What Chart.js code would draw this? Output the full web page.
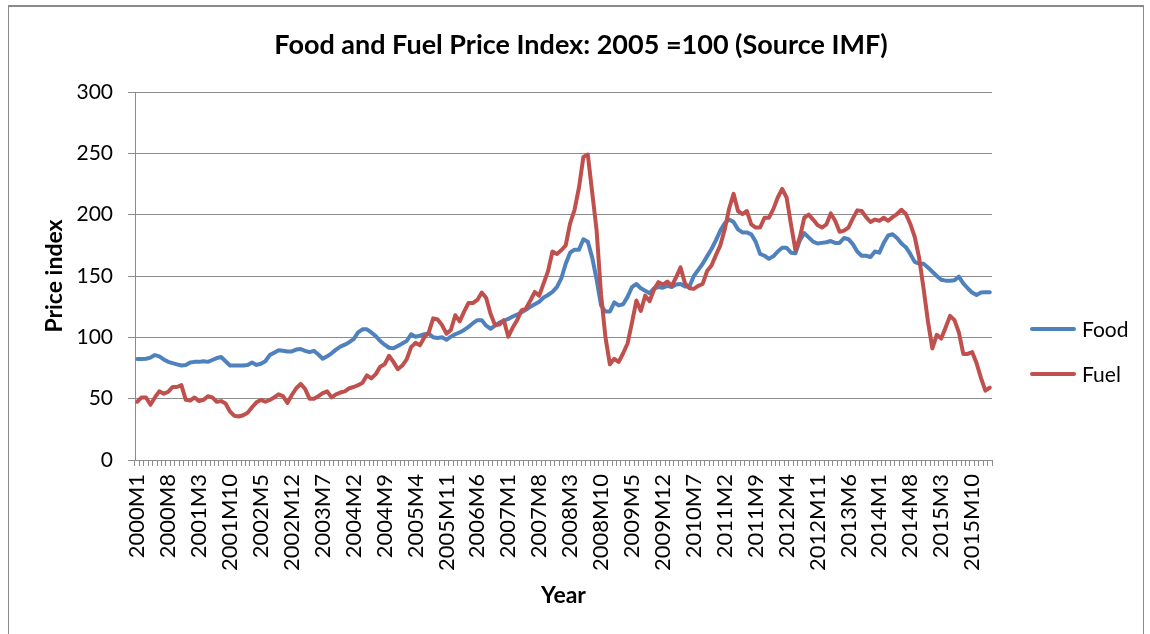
<!DOCTYPE html>
<html>
<head>
<meta charset="utf-8">
<title>Food and Fuel Price Index</title>
<script src="https://cdn.jsdelivr.net/npm/chart.js@4.4.1/dist/chart.umd.min.js"></script>
<style>
  body { margin: 0; background: #fff; }
  #wrap { position: relative; width: 1150px; height: 634px; overflow: hidden; }
  #frame { position: absolute; left: 8px; top: 5px; width: 1134px; height: 700px;
           border: 1px solid #8a8a8a; border-top-width: 2px; pointer-events: none; }
  #legend { position: absolute; left: 1030px; top: 306px; font: 21px Lato, sans-serif; color: #000; }
  .item { display: flex; align-items: center; height: 45px; }
  .swatch { width: 46px; height: 4px; margin-right: 6px; border-radius: 2px; }
</style>
</head>
<body>
<div id="wrap">
  <canvas id="chart" width="1150" height="634"></canvas>
  <div id="frame"></div>
  <div id="legend"></div>
</div>
<script>
// monthly index values, 2005 = 100, from 2000M1 to 2016M2
const food = [
  82.3, 82.3, 82.5, 83.5, 85.5, 84.5, 82, 80, 79, 78,
  77, 77.5, 79.5, 80, 80, 80.5, 80, 81.5, 83, 84,
  80.5, 77, 77, 77, 77, 77.5, 79.5, 77.5, 78.5, 80.5,
  85.5, 87.5, 89.5, 89, 88.5, 88.5, 90, 90.5, 89, 88,
  89, 86, 82.5, 84.5, 87, 90, 92.4, 94, 96, 98.6,
  104, 106.5, 106.5, 104, 101, 97, 94, 91.5, 91, 93,
  95, 97, 102.5, 100.5, 101.4, 102.5, 103, 100, 99.5, 100,
  98, 100.5, 102.5, 104, 106, 108.5, 111.5, 114, 114, 109.5,
  107, 109.5, 112, 113.5, 115, 117, 118.5, 120.5, 122.5, 125,
  127, 129, 132.5, 134.5, 137, 141, 148, 160, 169, 171.5,
  171.5, 180, 178, 165, 147, 126, 121, 121, 128.5, 126,
  127, 133, 141, 143.5, 140, 138, 136, 140, 141, 140.5,
  142, 141, 143, 143.5, 141.5, 141.5, 150, 155, 160, 166,
  172, 179, 187, 193, 196, 194, 188, 185.5, 185.5, 184,
  178, 168, 166.5, 164, 166, 170, 173, 173, 169, 168.5,
  179, 185, 181.5, 178, 176.5, 177, 177.5, 178.5, 177, 177,
  181, 180, 176, 170, 166.5, 166.5, 165.5, 170, 169, 177,
  183, 184, 181, 176.5, 173.5, 168, 161.5, 160, 160, 157,
  153.5, 150, 147, 146.2, 146.2, 146.5, 149.5, 144, 140, 136.5,
  134.5, 136.5, 136.7, 136.7
];

const fuel = [
  47.5, 51, 51, 45, 51, 56, 54, 55.5, 59.5, 59.5,
  61, 49, 48.5, 51, 48, 49, 52, 51, 47.5, 48,
  46, 39.5, 36, 35.5, 36.5, 38.5, 43, 47, 49, 47.5,
  49, 51, 53.5, 52, 46.5, 53, 58.5, 62, 58, 50,
  50, 52, 54.5, 56, 51, 53.5, 55, 56, 58.5, 59.5,
  61, 63, 69, 66.5, 70, 76, 78, 85, 80, 74,
  77, 82, 92, 95.5, 93.5, 100, 104, 115.5, 114.5, 110,
  103, 106, 118, 113, 121, 128, 128, 130.5, 136.5, 132,
  119, 110, 110.5, 114, 100.5, 108, 114, 122, 123.5, 130,
  137, 134, 144, 154, 170, 168, 171, 175, 193, 204,
  222, 247, 249, 218, 187, 135, 100, 78, 82.5, 80,
  87, 95, 112, 130, 121.5, 134, 129.5, 139, 145, 143,
  145.5, 142, 149, 157, 144, 140, 139.5, 142, 143.5, 154,
  158.5, 167, 175, 188, 205, 217, 203, 200.5, 203, 192,
  189.5, 189.5, 197.5, 197.5, 204.5, 214, 221, 214, 192, 171,
  181.5, 197.5, 200, 196, 191.5, 189.5, 192, 201, 195, 186,
  187, 189.5, 197, 203.5, 203, 198, 194, 196, 195, 197.5,
  195, 198, 200.5, 204, 200.5, 192.5, 182, 165, 140, 113,
  91, 102, 99, 108, 117.5, 114, 104, 86.5, 86.5, 88,
  79, 67, 56.5, 59
];

// category labels 2000M1, 2000M2, ... ; every 7th one is printed
const startYear = 2000;
const months = [];
for (let i = 0; i < food.length; i++) {
  months.push((startYear + Math.floor(i / 12)) + 'M' + (i % 12 + 1));
}
const labelStep = 7;

const yTicks = { min: 0, max: 300, step: 50 };

const seriesNames = ['Food', 'Fuel'];
const seriesColors = ['#4F81BD', '#C0504D'];

Chart.defaults.font.family = 'Lato, sans-serif';
Chart.defaults.color = '#000';

const gridColor = '#8c8c8c';

new Chart(document.getElementById('chart'), {
  type: 'line',
  data: {
    labels: months,
    datasets: [
      {
        label: seriesNames[0],
        data: food,
        borderColor: seriesColors[0],
        backgroundColor: seriesColors[0],
        order: 1
      },
      {
        label: seriesNames[1],
        data: fuel,
        borderColor: seriesColors[1],
        backgroundColor: seriesColors[1],
        order: 0
      }
    ]
  },
  options: {
    responsive: false,
    animation: false,
    devicePixelRatio: 1,
    layout: { padding: { left: 12, right: 0, top: 0, bottom: 0 } },
    elements: {
      line: { borderWidth: 4, tension: 0, borderJoinStyle: 'round', borderCapStyle: 'round' },
      point: { radius: 0, hoverRadius: 0 }
    },
    plugins: {
      legend: { display: false },
      tooltip: { enabled: false },
      title: {
        display: true,
        text: 'Food and Fuel Price Index: 2005 =100 (Source IMF)',
        font: { size: 27, weight: 'bold' },
        color: '#000',
        padding: { top: 28.8, bottom: 30.8 }
      }
    },
    scales: {
      x: {
        offset: true,
        grid: { offset: true, drawOnChartArea: false, tickLength: 6, color: gridColor },
        border: { color: gridColor },
        ticks: {
          autoSkip: false,
          minRotation: 90,
          maxRotation: 90,
          padding: 8,
          font: { size: 22 },
          callback: (v, i) => (i % labelStep === 0 ? months[i] : '')
        },
        title: {
          display: true,
          text: 'Year',
          font: { size: 23, weight: 'bold' },
          padding: { top: 0, bottom: 25 }
        },
        afterFit: s => { s.height = 174; }
      },
      y: {
        min: yTicks.min,
        max: yTicks.max,
        grid: { color: gridColor, tickLength: 7 },
        border: { color: gridColor },
        ticks: { stepSize: yTicks.step, padding: 15, font: { size: 21 } },
        title: {
          display: true,
          text: 'Price index',
          font: { size: 23, weight: 'bold' },
          padding: { top: 29, bottom: 0 }
        },
        afterFit: s => { s.width = 123; }
      },
      // empty band on the right where the legend sits
      legendSpace: {
        type: 'linear',
        position: 'right',
        grid: { display: false },
        border: { display: false },
        ticks: { display: false },
        afterFit: s => { s.width = 158; }
      }
    }
  }
});

// legend on the right, like the spreadsheet one
const legend = document.getElementById('legend');
seriesNames.forEach((name, k) => {
  const item = document.createElement('div');
  item.className = 'item';
  const sw = document.createElement('span');
  sw.className = 'swatch';
  sw.style.background = seriesColors[k];
  const txt = document.createElement('span');
  txt.textContent = name;
  item.appendChild(sw);
  item.appendChild(txt);
  legend.appendChild(item);
});
</script>
</body>
</html>
